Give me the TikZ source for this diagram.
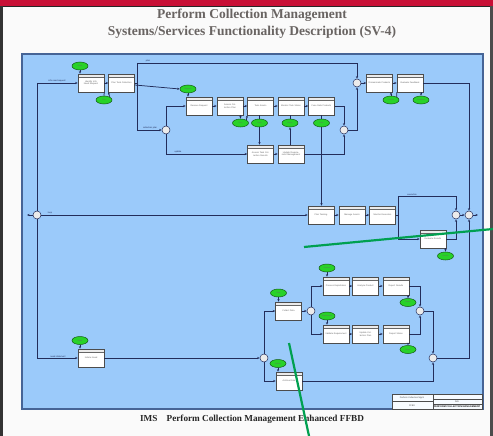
\documentclass[tikz,border=0pt]{standalone}
\usepackage{fontspec}
\setmainfont{Liberation Serif}
\newfontfamily\boxfont{Liberation Sans}
\usetikzlibrary{arrows.meta,shapes.geometric}
\definecolor{slidered}{RGB}{200,16,54}
\definecolor{bluebg}{RGB}{155,202,250}
\definecolor{blueedge}{RGB}{70,100,150}
\definecolor{wirec}{RGB}{35,45,90}
\definecolor{gfill}{RGB}{40,210,40}
\definecolor{gedge}{RGB}{20,90,20}
\definecolor{pen}{RGB}{0,160,80}
\definecolor{titlegray}{RGB}{105,100,98}
\begin{document}
\begin{tikzpicture}[x=1pt,y=-1pt,
 fbox/.style={draw=black!70, fill=white, minimum width=26pt, minimum height=18pt, inner sep=0pt, line width=0.5pt,
   font=\boxfont\fontsize{2.2}{2.6}\selectfont, align=center, text width=22pt, text=black!60,
   path picture={\fill[black!8] (path picture bounding box.north west) rectangle ([yshift=-3.5pt]path picture bounding box.north east);
     \draw[black!60,line width=.3pt] ([yshift=-3.5pt]path picture bounding box.north west) -- ([yshift=-3.5pt]path picture bounding box.north east);}},
 gell/.style={ellipse, draw=gedge, fill=gfill, minimum width=16pt, minimum height=8pt, inner sep=0pt, line width=.5pt,
   font=\boxfont\fontsize{1.8}{2.1}\selectfont, text=black!60, align=center},
 jn/.style={circle, draw=wirec, fill=black!8, minimum size=8pt, inner sep=0pt, line width=.5pt},
 conn/.style={draw=wirec, line width=.75pt, -{Stealth[length=2.5pt,width=2pt]}},
 wireln/.style={draw=wirec, line width=.75pt},
 lbl/.style={font=\boxfont\fontsize{2.2}{2.5}\selectfont, text=wirec, inner sep=0.5pt},
 penline/.style={draw=pen, line width=2.2pt}
]
\useasboundingbox (0,0) rectangle (493,436);
% slide
\fill[black!2] (0,0) rectangle (493,436);
\fill[slidered] (0,0) rectangle (493,6);
\fill[black!85] (0,6) rectangle (493,7.5);
\fill[black!80] (0,6) rectangle (2.5,436);
\fill[black!70] (489.5,6) rectangle (493,436);
\node[font=\bfseries\fontsize{13.5}{15}\selectfont, text=titlegray] (t1) at (252,15) {Perform Collection Management};
\node[font=\bfseries\fontsize{13.5}{15}\selectfont, text=titlegray] (t2) at (252,32) {Systems/Services Functionality Description (SV-4)};
\draw[fill=bluebg, draw=blueedge, line width=1.2pt] (22,54) rectangle (483,409);
\node[font=\bfseries\fontsize{9.2}{11}\selectfont, text=black!85] (cap) at (252,419) {IMS\quad Perform Collection Management Enhanced FFBD};

% boxes
\node[fbox] (b1) at (91,83) {Identify Info Need Request};
\node[fbox] (b2) at (121.5,83) {Plan Task Collection};
\node[fbox] (b3) at (199,106) {Receive Request};
\node[fbox] (b4) at (230,106) {Assess Collection Plan};
\node[fbox] (b5) at (260.5,106) {Task Assets};
\node[fbox] (b6) at (291,106) {Monitor Task Status};
\node[fbox] (b7) at (321.5,106) {Fuse Data Products};
\node[fbox] (b8) at (260.5,154) {Assess Task Collection Results};
\node[fbox] (b9) at (291,154) {Update Requirement Management};
\node[fbox] (b11) at (379.5,83) {Disseminate Products};
\node[fbox] (b12) at (410,83) {Evaluate Feedback};
\node[fbox] (b10) at (321,215) {Plan Tasking};
\node[fbox] (b13) at (352,215) {Manage Assets};
\node[fbox] (b14) at (382.5,215) {Monitor Execution};
\node[fbox] (b15) at (433,239) {Evaluate Results};
\node[fbox] (b16) at (288.5,311) {Collect Data};
\node[fbox] (b17) at (336,286) {Process Exploitation};
\node[fbox] (b18) at (365.5,286) {Analyze Product};
\node[fbox] (b19) at (396,286) {Report Results};
\node[fbox] (b20) at (336,334) {Validate Requirement};
\node[fbox] (b21) at (365.5,334) {Update Collection Plan};
\node[fbox] (b22) at (396,334) {Report Status};
\node[fbox] (b23) at (289,381) {Archive Data};
\node[fbox] (b24) at (91,358) {Initiate Need};

% green items
\node[gell] (e1) at (80,66) {Need};
\node[gell] (e2) at (104,100) {Plan};
\node[gell] (e3) at (188,89) {Request};
\node[gell] (e4) at (240.5,123) {Plan};
\node[gell] (e5) at (259.5,123) {Tasks};
\node[gell] (e6) at (290,123) {Status};
\node[gell] (e7) at (321.5,123) {Data};
\node[gell] (e8) at (391,100) {Product};
\node[gell] (e9) at (421,100) {Feedback};
\node[gell] (e10) at (445.5,256) {Results};
\node[gell] (e11) at (278.5,293) {Data};
\node[gell] (e12) at (327,268) {Product};
\node[gell] (e13) at (408,302.5) {Report};
\node[gell] (e14) at (327,316) {Requirement};
\node[gell] (e15) at (408,349.5) {Status};
\node[gell] (e16) at (278,363.5) {Archive};
\node[gell] (e17) at (80,340.5) {Need};

% junctions
\node[jn] (c1) at (37,215) {};
\node[jn] (c2) at (166,130) {};
\node[jn] (c3) at (344,130) {};
\node[jn] (c4) at (357,83) {};
\node[jn] (c5) at (456,215) {};
\node[jn] (c6) at (469,215) {};
\node[jn] (c7) at (311,311) {};
\node[jn] (c8) at (420,311) {};
\node[jn] (c9) at (264,358) {};
\node[jn] (c10) at (433,358) {};

% helper points
\coordinate (jA) at (37,83);
\coordinate (jB) at (37,358);
\coordinate (xL) at (27,215);
\coordinate (xR) at (478,215);
\coordinate (s1) at (137,83);
\coordinate (s1t) at (137,63);
\coordinate (s1b) at (137,130);
\coordinate (s2) at (398,215);
\coordinate (s2t) at (398,196);
\coordinate (s2b) at (398,239);

% left loop
\draw[wireln] (jA) -- (c1.north);
\draw[wireln] (c1.south) -- (jB);
\draw[conn] (jA) -- (b1.west);
\draw[conn] (jB) -- (b24.west);
\draw[conn] (c1.west) -- (xL);
\draw[conn] (c1.east) -- (b10.west);

% top section
\draw[conn] (e1.south) -- (e1.south |- b1.north);
\draw[conn] (b1) -- (b2);
\draw[wireln] (e2.north) -- (b1.south east);
\draw[conn] (e2.north east) -- (b2.south west);
\draw[wireln] (b2.east) -- (s1);
\draw[wireln] (s1t) -- (s1b);
\draw[conn] (s1t) -| (c4.north);
\draw[conn] (s1b) -- (c2.west);
\draw[conn] ([yshift=-2pt]b2.east) -- (e3.west);
\draw[conn] (e3.south) -- (e3.south |- b3.north);
\draw[conn] (c2.north) |- (b3.west);
\draw[conn] (c2.south) |- (b8.west);
\draw[conn] (b3) -- (b4);
\draw[conn] (b4) -- (b5);
\draw[conn] (b5) -- (b6);
\draw[conn] (b6) -- (b7);
\draw[conn] (b8) -- (b9);
\draw[conn] (b7.east) -| (c3.north);
\draw[conn] (b9.east) -| (c3.south);
\draw[conn] (c3.east) -| (c4.south);
\draw[conn] (c4.east) -- (b11.west);
\draw[conn] (b11) -- (b12);
\draw[conn] (b12.east) -| (c6.north);
\draw[conn] (b4.south -| e4) -- (e4.north);
\draw[conn] (e4.north east) -- (b5.south west);
\draw[wireln] (b5.south -| e5) -- (e5.north);
\draw[conn] (e5.south) -- (e5.south |- b8.north);
\draw[wireln] (e6.north) -- (b6.south -| e6);
\draw[conn] (b9.north -| e6) -- (e6.south);
\draw[wireln] (b7.south -| e7) -- (e7.north);
\draw[conn] (e7.south) -- (e7.south |- b10.north);
\draw[conn] (e8.north) -- (e8.north |- b11.south);
\draw[wireln] (e8.north east) -- (b12.south west);
\draw[conn] (b12.south -| e9) -- (e9.north);

% middle section
\draw[conn] (b10) -- (b13);
\draw[conn] (b13) -- (b14);
\draw[wireln] (b14.east) -- (s2);
\draw[wireln] (s2t) -- (s2b);
\draw[conn] (s2t) -| (c5.north);
\draw[conn] (s2b) -- (b15.west);
\draw[conn] (b15.east) -| (c5.south);
\draw[conn] (b15.south -| e10) -- (e10.north);
\draw[conn] (c5.east) -- (c6.west);
\draw[conn] (c6.east) -- (xR);

% bottom section
\draw[conn] (e17.south) -- (e17.south |- b24.north);
\draw[conn] (b24.east) -- (c9.west);
\draw[conn] (c9.north) |- (b16.west);
\draw[conn] (c9.south) |- (b23.west);
\draw[conn] (e11.south) -- (e11.south |- b16.north);
\draw[conn] (b16.east) -- (c7.west);
\draw[conn] (c7.north) |- (b17.west);
\draw[conn] (c7.south) |- (b20.west);
\draw[conn] (e12.south) -- (e12.south |- b17.north);
\draw[conn] (e14.south) -- (e14.south |- b20.north);
\draw[conn] (b17) -- (b18);
\draw[conn] (b18) -- (b19);
\draw[conn] (b20) -- (b21);
\draw[conn] (b21) -- (b22);
\draw[conn] (b19.south -| e13) -- (e13.north);
\draw[conn] (b22.south -| e15) -- (e15.north);
\draw[conn] (b19.east) -| (c8.north);
\draw[conn] (b22.east) -| (c8.south);
\draw[conn] (c8.east) -| (c10.north);
\draw[conn] (e16.south) -- (e16.south |- b23.north);
\draw[conn] (b23.east) -| (c10.south);
\draw[conn] (c10.east) -| (c6.south);

% line labels
\node[lbl, anchor=south] (l1) at (57,83) {info need request};
\node[lbl, anchor=south] (l2) at (148,63) {plan};
\node[lbl, anchor=south] (l3) at (150,130) {collection plan};
\node[lbl, anchor=south] (l4) at (178,154) {update};
\node[lbl, anchor=south] (l5) at (50,215) {loop};
\node[lbl, anchor=south] (l6) at (412,196) {execution};
\node[lbl, anchor=south] (l7) at (58,358) {need statement};

% title block
\draw[black!70, fill=white!92!bluebg, line width=.4pt] (392,394) rectangle (482,409);
\draw[black!70, line width=.3pt] (433,394) -- (433,409);
\draw[black!70, line width=.3pt] (392,401.5) -- (433,401.5);
\draw[black!70, line width=.3pt] (433,399) -- (482,399);
\draw[black!70, line width=.3pt] (433,404) -- (482,404);
\node[lbl, text=black!70] (tb1) at (412,398) {Perform Collection Mgmt};
\node[lbl, text=black!70] (tb2) at (412,405.5) {FFBD};
\node[lbl, text=black!70] (tb3) at (457,401.5) {IMS};
\node[lbl, text=black!90, font=\boxfont\bfseries\fontsize{2.4}{2.6}\selectfont] (tb4) at (457,406.5) {PERFORM COLLECTION MANAGEMENT};

% green pen annotations
\draw[penline] (304,247) -- (493,229);
\draw[penline] (289,343) -- (309,436);
\end{tikzpicture}
\end{document}
